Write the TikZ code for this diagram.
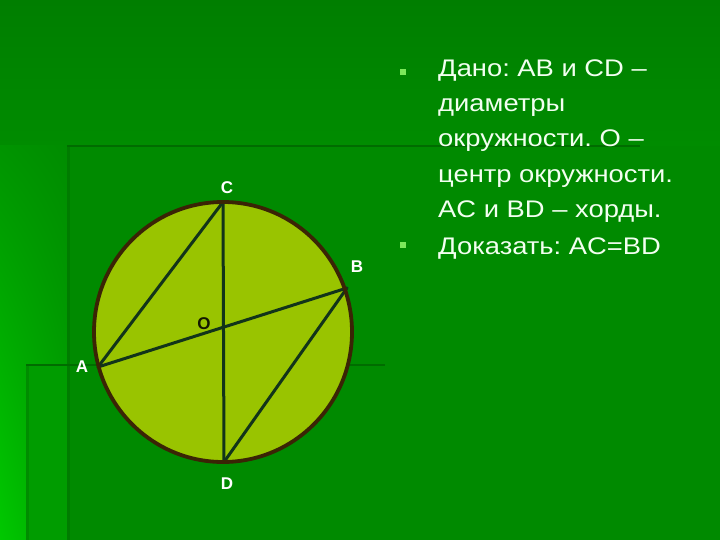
\documentclass[tikz,border=0pt]{standalone}
\usepackage{fontspec}
\setmainfont{Liberation Sans}
\usetikzlibrary{shadings}
\frenchspacing
\begin{document}
\begin{tikzpicture}[x=1pt,y=-1pt,
  lbl/.style={font=\fontsize{17}{17}\selectfont\bfseries, text=white, inner sep=0pt},
  chord/.style={draw=chordc, line width=3pt, line cap=round},
  bullet/.style={fill=bulletc, minimum size=6pt, inner sep=0pt},
  body/.style={font=\fontsize{24}{35.2}\selectfont, text=textc, inner sep=0pt, align=left, anchor=north west, xscale=1.14, transform shape}]
\definecolor{topa}{HTML}{007E00}
\definecolor{topb}{HTML}{008C00}
\definecolor{lefta}{HTML}{009400}
\definecolor{leftb}{HTML}{00C800}
\definecolor{leftc}{HTML}{00A800}
\definecolor{strip}{HTML}{009C00}
\definecolor{main}{HTML}{008A00}
\definecolor{fillc}{HTML}{99C400}
\definecolor{edgec}{HTML}{3A2405}
\definecolor{chordc}{HTML}{12341A}
\definecolor{bulletc}{HTML}{7CE85A}
\definecolor{textc}{HTML}{F2FFF0}
\definecolor{darkline}{HTML}{006C00}
\definecolor{vline}{HTML}{007C00}
\definecolor{vlineb}{HTML}{008C00}
\definecolor{olbl}{HTML}{141800}
\useasboundingbox (0,0) rectangle (720,540);
% background
\shade[top color=topa, bottom color=topb] (0,0) rectangle (720,146);
\shade[upper left=lefta, upper right=topb, lower left=leftb, lower right=leftc] (0,146) rectangle (67,540);
\fill[strip] (26,365) rectangle (67,540);
\fill[main] (67,146) rectangle (720,540);
\draw[darkline, line width=2pt] (67,146) -- (640,146);
\draw[vline, line width=3pt] (68.5,147) -- (68.5,540);
\draw[darkline, line width=2pt] (26,365) -- (385,365);
\draw[vlineb, line width=3pt] (27.5,366) -- (27.5,540);
% geometry
\coordinate (Oc) at (223,332);
\coordinate (A) at (98,367);
\coordinate (B) at (347,288);
\coordinate (C) at (223,202);
\coordinate (D) at (224,462);
\coordinate (O) at (223,327);
\fill[fillc] (Oc) ellipse [x radius=129, y radius=130];
\draw[chord] (A) -- (B);
\draw[chord] (C) -- (D);
\draw[chord] (A) -- (C);
\draw[chord] (B) -- (D);
\draw[edgec, line width=3.8pt] (Oc) ellipse [x radius=129, y radius=130];
% labels
\node[lbl] (lC) at (227,188) {C};
\node[lbl] (lB) at (357,267) {B};
\node[lbl] (lA) at (82,367) {A};
\node[lbl] (lD) at (227,484) {D};
\node[lbl, text=olbl] (lO) at (204,324) {O};
% text
\node[bullet] (b1) at (403,72) {};
\node[bullet] (b2) at (403,245) {};
\node[body] (t1) at (438,59.5) {Дано: AB и CD –\\диаметры\\окружности. O –\\центр окружности.\\AC и BD – хорды.};
\node[body] (t2) at (438,237.5) {Доказать: AC=BD};
\end{tikzpicture}
\end{document}
